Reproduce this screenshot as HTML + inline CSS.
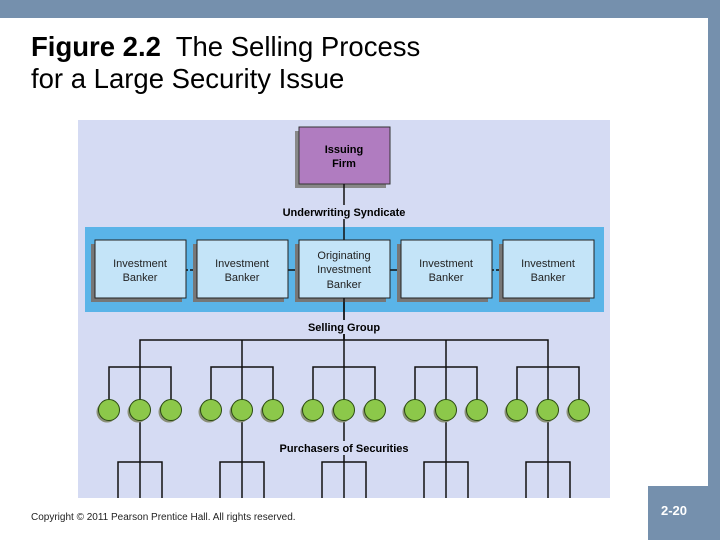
<!DOCTYPE html>
<html><head><style>
body{margin:0;width:720px;height:540px;overflow:hidden;background:#fff;position:relative;font-family:"Liberation Sans",sans-serif}
.t{position:absolute;left:31px;top:31px;font-size:27.5px;line-height:32px;color:#000}
</style></head><body>
<div style="position:absolute;left:0;top:0;width:720px;height:18px;background:#7590ad"></div>
<div style="position:absolute;left:708px;top:0;width:12px;height:540px;background:#7590ad"></div>
<div style="position:absolute;left:648px;top:486px;width:72px;height:54px;background:#7590ad;color:#fff;font-size:13px;font-weight:bold"><span style="position:absolute;left:13px;top:17px">2-20</span></div>
<div class="t"><b>Figure 2.2</b>&nbsp; The Selling Process<br>for a Large Security Issue</div>
<div style="position:absolute;left:31px;top:512px;font-size:10px;color:#222">Copyright © 2011 Pearson Prentice Hall. All rights reserved.</div>
<svg style="position:absolute;left:0;top:0" width="720" height="540" font-family="Liberation Sans, sans-serif">
<rect x="78" y="120" width="532" height="378" fill="#d5dbf3"/>
<rect x="85" y="227" width="519" height="85" fill="#5ab4e8"/>
<rect x="295" y="131" width="91" height="57" fill="#888"/>
<rect x="299" y="127" width="91" height="57" fill="#b07cc0" stroke="#333" stroke-width="1"/>
<text x="344" y="153" text-anchor="middle" font-size="11" font-weight="bold">Issuing</text>
<text x="344" y="167" text-anchor="middle" font-size="11" font-weight="bold">Firm</text>
<line x1="344" y1="184" x2="344" y2="340" stroke="#111" stroke-width="1.5"/>
<rect x="272" y="205" width="146" height="14" fill="#d5dbf3"/>
<text x="344" y="216" text-anchor="middle" font-size="11" font-weight="bold">Underwriting Syndicate</text>
<line x1="185" y1="270" x2="197" y2="270" stroke="#111" stroke-width="1.5" stroke-dasharray="3,2"/>
<line x1="491" y1="270" x2="502" y2="270" stroke="#111" stroke-width="1.5" stroke-dasharray="3,2"/>
<line x1="287" y1="270" x2="401" y2="270" stroke="#111" stroke-width="1.5"/>
<g font-size="11" text-anchor="middle" fill="#222">
<rect x="91" y="244" width="91" height="58" fill="#777"/><rect x="95" y="240" width="91" height="58" fill="#c4e4f8" stroke="#222"/>
<text x="140" y="267">Investment</text><text x="140" y="281">Banker</text>
<rect x="193" y="244" width="91" height="58" fill="#777"/><rect x="197" y="240" width="91" height="58" fill="#c4e4f8" stroke="#222"/>
<text x="242" y="267">Investment</text><text x="242" y="281">Banker</text>
<rect x="295" y="244" width="91" height="58" fill="#777"/><rect x="299" y="240" width="91" height="58" fill="#c4e4f8" stroke="#222"/>
<text x="344" y="259">Originating</text><text x="344" y="273">Investment</text><text x="344" y="288">Banker</text>
<rect x="397" y="244" width="91" height="58" fill="#777"/><rect x="401" y="240" width="91" height="58" fill="#c4e4f8" stroke="#222"/>
<text x="446" y="267">Investment</text><text x="446" y="281">Banker</text>
<rect x="499" y="244" width="91" height="58" fill="#777"/><rect x="503" y="240" width="91" height="58" fill="#c4e4f8" stroke="#222"/>
<text x="548" y="267">Investment</text><text x="548" y="281">Banker</text>
</g>
<line x1="344" y1="298" x2="344" y2="340" stroke="#111" stroke-width="1.5"/>
<rect x="300" y="320" width="88" height="14" fill="#d5dbf3"/>
<text x="344" y="331" text-anchor="middle" font-size="11" font-weight="bold">Selling Group</text>
<line x1="344" y1="334" x2="344" y2="340" stroke="#111" stroke-width="1.5"/>
<g stroke="#111" stroke-width="1.5" fill="none">
<polyline points="140,367 140,340 548,340 548,367"/>
<line x1="242" y1="340" x2="242" y2="367"/><line x1="446" y1="340" x2="446" y2="367"/><line x1="344" y1="340" x2="344" y2="367"/>
</g>
<g id="grp">
<g stroke="#111" stroke-width="1.5" fill="none">
<polyline points="109,400 109,367 171,367 171,400"/><line x1="140" y1="367" x2="140" y2="400"/>
<line x1="140" y1="420" x2="140" y2="462"/>
<polyline points="118,498 118,462 162,462 162,498"/><line x1="140" y1="462" x2="140" y2="498"/>
</g>
<g fill="#8a9078"><circle cx="107" cy="412" r="10.5"/><circle cx="138" cy="412" r="10.5"/><circle cx="169" cy="412" r="10.5"/></g>
<g fill="#8cc84a" stroke="#2a4a10" stroke-width="1"><circle cx="109" cy="410" r="10.5"/><circle cx="140" cy="410" r="10.5"/><circle cx="171" cy="410" r="10.5"/></g>
</g>
<use href="#grp" x="102"/><use href="#grp" x="204"/><use href="#grp" x="306"/><use href="#grp" x="408"/>
<rect x="272" y="441" width="144" height="14" fill="#d5dbf3"/>
<text x="344" y="452" text-anchor="middle" font-size="11" font-weight="bold">Purchasers of Securities</text>
</svg>
</body></html>
